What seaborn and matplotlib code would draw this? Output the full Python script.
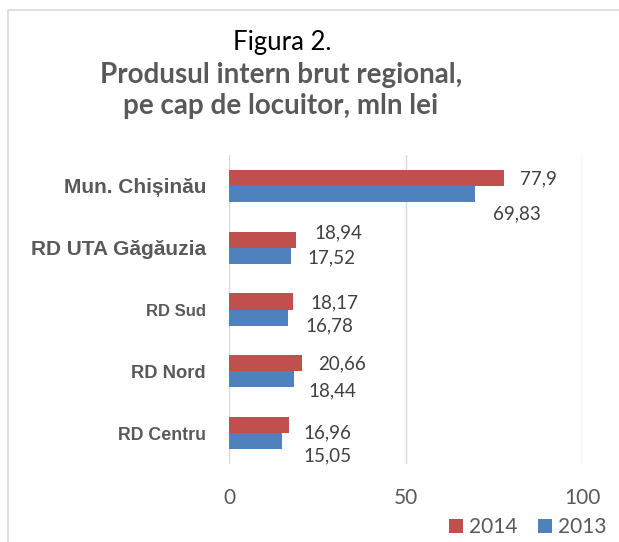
import matplotlib
matplotlib.use("Agg")
import matplotlib.pyplot as plt
import seaborn as sns
import pandas as pd
from matplotlib.patches import Rectangle, Patch

regions = ["Mun. Chișinău", "RD UTA Găgăuzia", "RD Sud", "RD Nord", "RD Centru"]
years = ["2014", "2013"]
v2014 = [77.9, 18.94, 18.17, 20.66, 16.96]
v2013 = [69.83, 17.52, 16.78, 18.44, 15.05]
lab2014 = ["77,9", "18,94", "18,17", "20,66", "16,96"]
lab2013 = ["69,83", "17,52", "16,78", "18,44", "15,05"]
xticks = [0, 50, 100]

# label placement (pixel offsets from bar end / bar centre)
off2014 = [(16, -1), (19, 7), (17, -1), (16, -1), (15, -8)]
off2013 = [(18, -20), (17, -2), (17, -8), (14, -12), (21, -15)]

colors = {"2014": "#C0504D", "2013": "#4F81BD"}

df = pd.DataFrame({
    "region": regions * 2,
    "year": ["2014"] * len(regions) + ["2013"] * len(regions),
    "value": v2014 + v2013,
})

sns.set_theme(style="white")
plt.rcParams["font.family"] = ["Lato", "DejaVu Sans"]

W, H = 619, 542
fig = plt.figure(figsize=(W / 100, H / 100), dpi=100)
ax = fig.add_axes([229 / W, 1 - 464 / H, (582 - 229) / W, (464 - 155) / H])

sns.barplot(data=df, y="region", x="value", hue="year", order=regions,
            hue_order=years, palette=colors, orient="h", width=0.52,
            saturation=1, edgecolor="none", ax=ax, legend=False)

ax.set_xlim(0, 100)
ax.set_ylim(4.5, -0.5)
ax.set_xticks(xticks)
ax.set_xticklabels([str(t) for t in xticks], fontsize=15, color="#595959")
ax.tick_params(axis="x", length=0, pad=17)
ax.tick_params(axis="y", length=0, pad=16.5)
for s in ax.spines.values():
    s.set_visible(False)
ax.xaxis.grid(True, color="#D9D9D9", linewidth=1)
ax.set_axisbelow(True)
ax.set_xlabel("")
ax.set_ylabel("")

ysizes = [15, 15, 12, 13.2, 12.8]
for lbl, fs in zip(ax.get_yticklabels(), ysizes):
    lbl.set_fontfamily(["Liberation Sans", "DejaVu Sans"])
    lbl.set_fontweight("bold")
    lbl.set_fontsize(fs)
    lbl.set_color("#595959")

bw = 0.26
for i in range(len(regions)):
    ax.annotate(lab2014[i], xy=(v2014[i], i - bw / 2), xytext=off2014[i],
                textcoords="offset pixels", ha="left", va="center",
                fontsize=13.5, color="#404040", annotation_clip=False)
    ax.annotate(lab2013[i], xy=(v2013[i], i + bw / 2), xytext=off2013[i],
                textcoords="offset pixels", ha="left", va="center",
                fontsize=13.5, color="#404040", annotation_clip=False)

# titles
fig.text(282 / W, 1 - 42 / H, "Figura 2.", ha="center", va="center",
         fontsize=18.5, color="black")
fig.text(281 / W, 1 - 75 / H, "Produsul intern brut regional,", ha="center",
         va="center", fontsize=20, fontweight="bold", color="#595959")
fig.text(281 / W, 1 - 106 / H, "pe cap de locuitor, mln lei", ha="center",
         va="center", fontsize=20, fontweight="bold", color="#595959")

# legend
handles = [Patch(facecolor=colors[y], edgecolor="none", label=y) for y in years]
fig.legend(handles=handles, loc="center right", bbox_to_anchor=(0.997, 1 - 527 / H),
           ncol=2, frameon=False, fontsize=15, handlelength=0.65, handleheight=0.65,
           handletextpad=0.3, columnspacing=1.0, labelcolor="#595959",
           borderpad=0.0)

# outer chart border
fig.patches.append(Rectangle((8 / W, -0.1), 1.2, 1 - 10 / H + 0.1,
                             transform=fig.transFigure, fill=False,
                             edgecolor="#D9D9D9", linewidth=1.2))

fig.savefig("out.png", dpi=100)
